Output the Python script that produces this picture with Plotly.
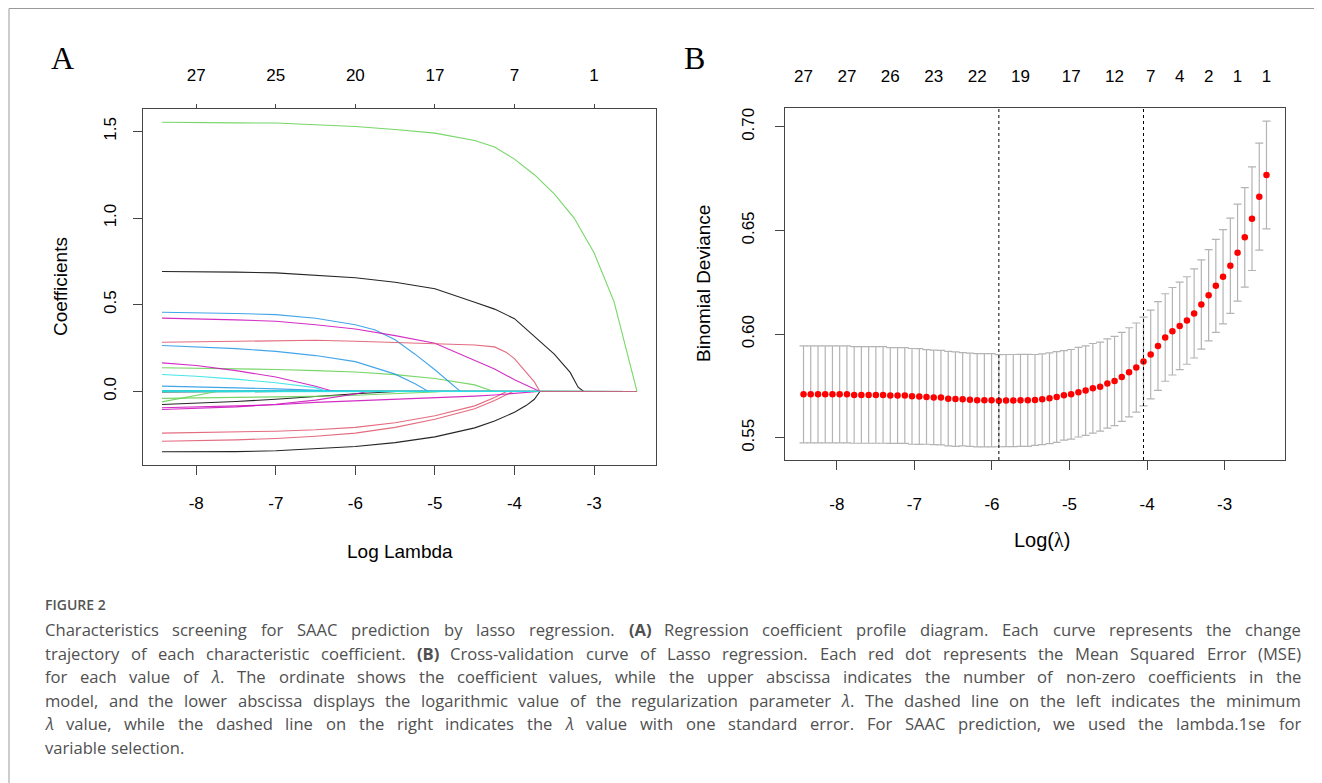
import glob
import struct
import plotly.graph_objects as go

W, H = 1322, 783
OFF = 8                      # page body margin the figure sits inside
FW, FH = W - OFF, H - OFF

# ---------------- Panel A: coefficient paths (log lambda, coefficient) ----------------
A_TICKS = [-8, -7, -6, -5, -4, -3]
A_TOP_LABELS = ["27", "25", "20", "17", "7", "1"]
A_Y_TICKS = [0.0, 0.5, 1.0, 1.5]
A_Y_LABELS = ["0.0", "0.5", "1.0", "1.5"]
LOG_LAMBDA_START = -8.43
LOG_LAMBDA_END = -2.46

green_main = [(-8.43, 1.553), (-8.0, 1.550), (-7.5, 1.549), (-7.0, 1.548), (-6.5, 1.540), (-6.0, 1.528),
              (-5.5, 1.511), (-5.0, 1.490), (-4.5, 1.447), (-4.25, 1.410), (-4.0, 1.340), (-3.75, 1.250),
              (-3.5, 1.140), (-3.25, 1.000), (-3.0, 0.800), (-2.75, 0.520), (-2.46, 0.0)]
black_main = [(-8.43, 0.692), (-8.0, 0.692), (-7.5, 0.688), (-7.0, 0.684), (-6.5, 0.672), (-6.0, 0.656),
              (-5.5, 0.630), (-5.0, 0.592), (-4.5, 0.515), (-4.25, 0.475), (-4.0, 0.420), (-3.75, 0.320),
              (-3.5, 0.215), (-3.3, 0.110), (-3.2, 0.025), (-3.13, 0.0)]
blue_1 = [(-8.43, 0.457), (-8.0, 0.455), (-7.5, 0.450), (-7.0, 0.443), (-6.5, 0.422), (-6.0, 0.385),
          (-5.75, 0.355), (-5.5, 0.298), (-5.25, 0.215), (-5.0, 0.125), (-4.8, 0.050), (-4.68, 0.0)]
magenta_1 = [(-8.43, 0.423), (-8.0, 0.420), (-7.5, 0.413), (-7.0, 0.405), (-6.5, 0.385), (-6.0, 0.360),
             (-5.5, 0.322), (-5.0, 0.278), (-4.5, 0.182), (-4.25, 0.130), (-4.0, 0.068), (-3.75, 0.018),
             (-3.68, 0.0)]
pink_1 = [(-8.43, 0.284), (-8.0, 0.286), (-7.5, 0.290), (-7.0, 0.294), (-6.5, 0.295), (-6.0, 0.290),
          (-5.5, 0.284), (-5.0, 0.277), (-4.5, 0.268), (-4.25, 0.257), (-4.1, 0.225), (-4.0, 0.190),
          (-3.85, 0.110), (-3.75, 0.055), (-3.68, 0.0)]
blue_2 = [(-8.43, 0.265), (-8.0, 0.258), (-7.5, 0.247), (-7.0, 0.231), (-6.5, 0.207), (-6.0, 0.172),
          (-5.5, 0.100), (-5.25, 0.045), (-5.08, 0.0)]
magenta_2 = [(-8.43, 0.165), (-8.0, 0.150), (-7.5, 0.120), (-7.0, 0.083), (-6.5, 0.030), (-6.27, 0.0)]
green_2 = [(-8.43, 0.137), (-8.0, 0.135), (-7.5, 0.132), (-7.0, 0.127), (-6.5, 0.120), (-6.0, 0.112),
           (-5.5, 0.097), (-5.0, 0.075), (-4.5, 0.038), (-4.26, 0.0)]
cyan_1 = [(-8.43, 0.098), (-8.0, 0.088), (-7.5, 0.071), (-7.0, 0.050), (-6.5, 0.022), (-6.36, 0.0)]
blue_3 = [(-8.43, 0.031), (-8.0, 0.028), (-7.5, 0.021), (-7.0, 0.015), (-6.5, 0.007), (-6.0, 0.0)]
green_neg_1 = [(-8.43, -0.060), (-8.0, -0.022), (-7.74, 0.0)]
green_neg_2 = [(-8.43, -0.040), (-8.0, -0.038), (-7.5, -0.035), (-7.0, -0.032), (-6.5, -0.028),
               (-6.0, -0.022), (-5.5, -0.014), (-5.0, -0.003), (-4.92, 0.0)]
black_neg_1 = [(-8.43, -0.075), (-8.0, -0.068), (-7.5, -0.058), (-7.0, -0.045), (-6.5, -0.028),
               (-6.0, -0.013), (-5.48, 0.0)]
magenta_neg_1 = [(-8.43, -0.094), (-8.0, -0.090), (-7.5, -0.083), (-7.0, -0.077), (-6.5, -0.063),
                 (-6.0, -0.055), (-5.5, -0.046), (-5.0, -0.037), (-4.5, -0.027), (-4.25, -0.020),
                 (-4.0, -0.012), (-3.75, -0.002), (-3.7, 0.0)]
magenta_neg_2 = [(-8.43, -0.104), (-8.0, -0.098), (-7.5, -0.089), (-7.0, -0.074), (-6.5, -0.050),
                 (-6.0, -0.015), (-5.85, 0.0)]
pink_neg_1 = [(-8.43, -0.240), (-8.0, -0.238), (-7.5, -0.234), (-7.0, -0.229), (-6.5, -0.221),
              (-6.0, -0.207), (-5.5, -0.180), (-5.0, -0.140), (-4.5, -0.083), (-4.25, -0.035), (-4.1, 0.0)]
pink_neg_2 = [(-8.43, -0.287), (-8.0, -0.285), (-7.5, -0.279), (-7.0, -0.271), (-6.5, -0.258),
              (-6.0, -0.240), (-5.5, -0.207), (-5.0, -0.160), (-4.5, -0.100), (-4.25, -0.052), (-4.02, 0.0)]
black_neg_2 = [(-8.43, -0.348), (-8.0, -0.348), (-7.5, -0.347), (-7.0, -0.342), (-6.5, -0.330),
               (-6.0, -0.317), (-5.5, -0.295), (-5.0, -0.262), (-4.5, -0.210), (-4.25, -0.170),
               (-4.0, -0.120), (-3.85, -0.080), (-3.75, -0.045), (-3.68, 0.0)]
black_tiny_1 = [(-8.43, 0.006), (-7.9, 0.004), (-7.85, 0.0)]
black_tiny_2 = [(-8.43, -0.003), (-7.0, -0.001), (-6.95, 0.0)]
red_tiny_1 = [(-8.43, 0.003), (-7.2, 0.002), (-7.15, 0.0)]
red_tiny_2 = [(-8.43, 0.004), (-6.5, 0.002), (-6.45, 0.0)]
green_tiny = [(-8.43, 0.002), (-5.0, 0.001), (-4.9, 0.0)]
blue_tiny = [(-8.43, 0.003), (-5.8, 0.001), (-5.75, 0.0)]
cyan_tiny_1 = [(-8.43, 0.004), (-6.0, 0.001), (-5.95, 0.0)]
cyan_tiny_2 = [(-8.43, -0.002), (-6.8, -0.001), (-6.75, 0.0)]
cyan_tiny_3 = [(-8.43, 0.002), (-4.3, 0.001), (-4.25, 0.0)]

R_BLACK, R_RED, R_GREEN, R_BLUE, R_CYAN, R_MAGENTA = "#000000", "#DF536B", "#61D04F", "#2297E6", "#28E2E5", "#CD0BBC"

PATHS = [
    (black_neg_2, R_BLACK), (black_main, R_BLACK), (black_neg_1, R_BLACK), (black_tiny_1, R_BLACK),
    (black_tiny_2, R_BLACK), (pink_neg_1, R_RED), (pink_neg_2, R_RED), (red_tiny_1, R_RED), (red_tiny_2, R_RED),
    (green_2, R_GREEN), (green_neg_1, R_GREEN), (green_neg_2, R_GREEN), (green_tiny, R_GREEN),
    (blue_1, R_BLUE), (blue_2, R_BLUE), (blue_3, R_BLUE), (blue_tiny, R_BLUE),
    (magenta_1, R_MAGENTA), (magenta_2, R_MAGENTA), (magenta_neg_1, R_MAGENTA), (magenta_neg_2, R_MAGENTA),
    (cyan_1, R_CYAN), (cyan_tiny_1, R_CYAN), (cyan_tiny_2, R_CYAN), (cyan_tiny_3, R_CYAN),
    (green_main, R_GREEN), (pink_1, R_RED),
]

# ---------------- Panel B: cross-validation curve ----------------
LOG_LAMBDA_B = [-8.430, -8.337, -8.243, -8.150, -8.057, -7.964, -7.870, -7.777, -7.684, -7.590,
                -7.497, -7.404, -7.311, -7.217, -7.124, -7.031, -6.937, -6.844, -6.751, -6.658,
                -6.564, -6.471, -6.378, -6.284, -6.191, -6.098, -6.005, -5.911, -5.818, -5.725,
                -5.632, -5.538, -5.445, -5.352, -5.258, -5.165, -5.072, -4.979, -4.885, -4.792,
                -4.699, -4.605, -4.512, -4.419, -4.326, -4.232, -4.139, -4.046, -3.953, -3.859,
                -3.766, -3.673, -3.579, -3.486, -3.393, -3.300, -3.206, -3.113, -3.020, -2.926,
                -2.833, -2.740, -2.647, -2.553, -2.460]
CV_MEAN = [0.5710, 0.5710, 0.5710, 0.5710, 0.5710, 0.5710, 0.5710, 0.5707, 0.5707, 0.5707,
           0.5707, 0.5707, 0.5704, 0.5704, 0.5704, 0.5700, 0.5699, 0.5697, 0.5695, 0.5694,
           0.5689, 0.5687, 0.5686, 0.5684, 0.5681, 0.5681, 0.5681, 0.5679, 0.5680, 0.5680,
           0.5681, 0.5681, 0.5683, 0.5686, 0.5691, 0.5697, 0.5705, 0.5710, 0.5720, 0.5728,
           0.5739, 0.5747, 0.5762, 0.5774, 0.5794, 0.5816, 0.5839, 0.5868, 0.5902, 0.5943,
           0.5984, 0.6014, 0.6040, 0.6066, 0.6100, 0.6143, 0.6188, 0.6233, 0.6277, 0.6330,
           0.6393, 0.6467, 0.6557, 0.6663, 0.6768]
CV_SD = [0.0234, 0.0234, 0.0234, 0.0234, 0.0234, 0.0234, 0.0234, 0.0233, 0.0233, 0.0233,
         0.0233, 0.0233, 0.0231, 0.0231, 0.0231, 0.0231, 0.0231, 0.0228, 0.0228, 0.0228,
         0.0228, 0.0228, 0.0225, 0.0225, 0.0225, 0.0225, 0.0225, 0.0222, 0.0222, 0.0222,
         0.0222, 0.0222, 0.0219, 0.0219, 0.0219, 0.0219, 0.0216, 0.0216, 0.0216, 0.0216,
         0.0216, 0.0215, 0.0215, 0.0215, 0.0215, 0.0215, 0.0215, 0.0214, 0.0214, 0.0214,
         0.0211, 0.0211, 0.0211, 0.0211, 0.0215, 0.0215, 0.0220, 0.0224, 0.0227, 0.0230,
         0.0234, 0.0240, 0.0250, 0.0258, 0.0260]
LAMBDA_MIN_LOG = -5.911
LAMBDA_1SE_LOG = -4.046
B_TICKS = [-8, -7, -6, -5, -4, -3]
B_Y_TICKS = [0.55, 0.60, 0.65, 0.70]
B_Y_LABELS = ["0.55", "0.60", "0.65", "0.70"]
B_TOP_POS = [-8.430, -7.870, -7.311, -6.751, -6.191, -5.632, -4.979, -4.419, -3.953, -3.579, -3.206, -2.833, -2.460]
B_TOP_LABELS = ["27", "27", "26", "23", "22", "19", "17", "12", "7", "4", "2", "1", "1"]

CAPTION_HEAD = "FIGURE 2"
CAPTION_LINES = [
    "Characteristics screening for SAAC prediction by lasso regression. (A) Regression coefficient profile diagram. Each curve represents the change",
    "trajectory of each characteristic coefficient. (B) Cross-validation curve of Lasso regression. Each red dot represents the Mean Squared Error (MSE)",
    "for each value of λ. The ordinate shows the coefficient values, while the upper abscissa indicates the number of non-zero coefficients in the",
    "model, and the lower abscissa displays the logarithmic value of the regularization parameter λ. The dashed line on the left indicates the minimum",
    "λ value, while the dashed line on the right indicates the λ value with one standard error. For SAAC prediction, we used the lambda.1se for",
    "variable selection.",
]

# ---------------- geometry helpers (reference pixel -> paper fraction) ----------------
def px_x(p):
    return (p - OFF) / FW


def px_y(p):
    return 1 - (p - OFF) / FH


A_DOM_X = [px_x(143), px_x(656)]
A_DOM_Y = [px_y(465), px_y(109)]
B_DOM_X = [px_x(785), px_x(1285)]
B_DOM_Y = [px_y(460), px_y(108)]


def padded(lo, hi, f=0.04):
    d = (hi - lo) * f
    return [lo - d, hi + d]


A_XRANGE = padded(LOG_LAMBDA_START, LOG_LAMBDA_END)
all_coef = [c for pts, _ in PATHS for _, c in pts]
A_YRANGE = padded(min(all_coef), max(all_coef))
B_XRANGE = padded(min(LOG_LAMBDA_B), max(LOG_LAMBDA_B))
B_YRANGE = padded(min(m - s for m, s in zip(CV_MEAN, CV_SD)), max(m + s for m, s in zip(CV_MEAN, CV_SD)))


# ---------------- font metrics for justified caption ----------------
def load_font_widths():
    cands = [p for p in glob.glob("/usr/share/fonts/**/*.[ot]tf", recursive=True)
             if "opensans" in p.lower().replace("-", "").replace("_", "").replace(" ", "")]
    cands.sort(key=lambda p: (("regular" not in p.lower()) and ("[" not in p), "italic" in p.lower(), len(p)))
    for path in cands:
        try:
            data = open(path, "rb").read()
            n = struct.unpack(">H", data[4:6])[0]
            tabs = {}
            for i in range(n):
                o = 12 + 16 * i
                tabs[data[o:o + 4].decode("latin1")] = struct.unpack(">I", data[o + 8:o + 12])[0]
            upem = struct.unpack(">H", data[tabs["head"] + 18:tabs["head"] + 20])[0]
            nhm = struct.unpack(">H", data[tabs["hhea"] + 34:tabs["hhea"] + 36])[0]
            hm = tabs["hmtx"]
            adv = [struct.unpack(">H", data[hm + 4 * i:hm + 4 * i + 2])[0] for i in range(nhm)]
            cm = tabs["cmap"]
            nsub = struct.unpack(">H", data[cm + 2:cm + 4])[0]
            sub = None
            for i in range(nsub):
                pid, eid, so = struct.unpack(">HHI", data[cm + 4 + 8 * i:cm + 12 + 8 * i])
                if struct.unpack(">H", data[cm + so:cm + so + 2])[0] == 4:
                    sub = cm + so
                    break
            if sub is None:
                continue
            sx2 = struct.unpack(">H", data[sub + 6:sub + 8])[0]
            sc = sx2 // 2
            ends = struct.unpack(">%dH" % sc, data[sub + 14:sub + 14 + sx2])
            starts = struct.unpack(">%dH" % sc, data[sub + 16 + sx2:sub + 16 + 2 * sx2])
            deltas = struct.unpack(">%dh" % sc, data[sub + 16 + 2 * sx2:sub + 16 + 3 * sx2])
            rp = sub + 16 + 3 * sx2
            roffs = struct.unpack(">%dH" % sc, data[rp:rp + sx2])

            def gid(c):
                for k in range(sc):
                    if ends[k] >= c:
                        if starts[k] > c:
                            return 0
                        if roffs[k] == 0:
                            return (c + deltas[k]) & 0xFFFF
                        a = rp + 2 * k + roffs[k] + 2 * (c - starts[k])
                        g = struct.unpack(">H", data[a:a + 2])[0]
                        return (g + deltas[k]) & 0xFFFF if g else 0
                return 0

            cache = {}

            def width(s, size):
                tot = 0
                for ch in s:
                    if ch not in cache:
                        g = gid(ord(ch))
                        cache[ch] = adv[min(g, nhm - 1)]
                    tot += cache[ch]
                return tot * size / upem

            return width
        except Exception:
            continue
    return lambda s, size: 0.53 * size * len(s)


text_width = load_font_widths()

fig = go.Figure()

for pts, col in PATHS:
    xs = [p[0] for p in pts]
    ys = [p[1] for p in pts]
    if xs[-1] < LOG_LAMBDA_END:
        xs.append(LOG_LAMBDA_END)
        ys.append(0.0)
    fig.add_trace(go.Scatter(x=xs, y=ys, mode="lines", line=dict(color=col, width=1.1),
                             opacity=0.85, xaxis="x", yaxis="y", showlegend=False, hoverinfo="skip"))

# dummy traces so the top axes render
fig.add_trace(go.Scatter(x=A_TICKS, y=[None] * len(A_TICKS), xaxis="x3", yaxis="y", showlegend=False,
                         hoverinfo="skip", mode="markers"))
fig.add_trace(go.Scatter(x=B_TOP_POS, y=[None] * len(B_TOP_POS), xaxis="x4", yaxis="y2", showlegend=False,
                         hoverinfo="skip", mode="markers"))

fig.add_trace(go.Scatter(
    x=LOG_LAMBDA_B, y=CV_MEAN, mode="markers",
    marker=dict(color="#FF0000", size=6.5, line=dict(width=0)),
    error_y=dict(type="data", array=CV_SD, color="#B4B4B4", thickness=1.2, width=4),
    xaxis="x2", yaxis="y2", showlegend=False, hoverinfo="skip"))

AX_FONT = dict(family="Liberation Sans, Arial, sans-serif", size=17, color="#000000")
AXLINE = "#444444"

base = dict(showgrid=False, zeroline=False, showline=True, linecolor=AXLINE, linewidth=1, mirror=True,
            ticks="outside", ticklen=9, tickcolor=AXLINE, tickfont=AX_FONT)

fig.update_layout(
    width=FW, height=FH, margin=dict(l=0, r=0, t=0, b=0),
    paper_bgcolor="white", plot_bgcolor="white",
    xaxis=dict(domain=A_DOM_X, range=A_XRANGE, anchor="y", tickvals=A_TICKS,
               ticktext=[str(t) for t in A_TICKS], ticklabelstandoff=14, **base),
    yaxis=dict(domain=A_DOM_Y, range=A_YRANGE, anchor="x", tickvals=A_Y_TICKS, ticktext=A_Y_LABELS,
               tickangle=-90, ticklabelstandoff=10, **base),
    xaxis3=dict(overlaying="x", side="top", anchor="y", range=A_XRANGE, tickvals=A_TICKS, ticktext=A_TOP_LABELS,
                showgrid=False, zeroline=False, showline=False, ticks="outside", ticklen=4, tickcolor=AXLINE,
                tickfont=AX_FONT, ticklabelstandoff=16),
    xaxis2=dict(domain=B_DOM_X, range=B_XRANGE, anchor="y2", tickvals=B_TICKS,
                ticktext=[str(t) for t in B_TICKS], ticklabelstandoff=20, **base),
    yaxis2=dict(domain=B_DOM_Y, range=B_YRANGE, anchor="x2", tickvals=B_Y_TICKS, ticktext=B_Y_LABELS,
                tickangle=-90, ticklabelstandoff=14, **base),
    xaxis4=dict(overlaying="x2", side="top", anchor="y2", range=B_XRANGE, tickvals=B_TOP_POS,
                ticktext=B_TOP_LABELS, showgrid=False, zeroline=False, showline=False, ticks="",
                tickfont=AX_FONT, ticklabelstandoff=22),
)

# dotted reference lines at lambda.min and lambda.1se
for v in (LAMBDA_MIN_LOG, LAMBDA_1SE_LOG):
    fig.add_shape(type="line", xref="x2", yref="y2 domain", x0=v, x1=v, y0=0, y1=1,
                  line=dict(color="#000000", width=1, dash="dot"))

# figure frame (left and top rules)
fig.add_shape(type="line", xref="paper", yref="paper", x0=px_x(9), x1=px_x(9), y0=0, y1=px_y(8.5),
              line=dict(color="#9a9a9a", width=1))
fig.add_shape(type="line", xref="paper", yref="paper", x0=px_x(9), x1=1, y0=px_y(8.5), y1=px_y(8.5),
              line=dict(color="#9a9a9a", width=1))

TITLE_FONT = dict(family="Liberation Sans, Arial, sans-serif", size=19, color="#000000")
SERIF = "Liberation Serif, Times New Roman, serif"
ann = [
    dict(text="A", x=px_x(62), y=px_y(58), font=dict(family=SERIF, size=32, color="#000")),
    dict(text="B", x=px_x(694), y=px_y(58), font=dict(family=SERIF, size=32, color="#000")),
    dict(text="Log Lambda", x=px_x(400), y=px_y(551), font=TITLE_FONT),
    dict(text="Coefficients", x=px_x(60), y=px_y(287), font=TITLE_FONT, textangle=-90),
    dict(text="Log(<span style='font-family:Liberation Serif'>λ</span>)", x=px_x(1042), y=px_y(540),
         font=dict(TITLE_FONT, size=20)),
    dict(text="Binomial Deviance", x=px_x(703), y=px_y(284), font=TITLE_FONT, textangle=-90),
]
for a in ann:
    a.update(xref="paper", yref="paper", showarrow=False, xanchor="center", yanchor="middle")
    fig.add_annotation(**a)

# ---------------- caption (justified word by word) ----------------
CAP_FONT = "Open Sans, sans-serif"
CAP_SIZE = 16.6
CAP_COLOR = "#505050"
fig.add_annotation(text=CAPTION_HEAD, xref="paper", yref="paper", x=px_x(43), y=px_y(604), showarrow=False,
                   xanchor="left", yanchor="middle",
                   font=dict(family=CAP_FONT, size=14, color="#555555", weight=600))

LEFT, RIGHT = 43, 1299
line_y = [629, 653, 676, 700, 723, 747]


def styled(word):
    if word in ("(A)", "(B)"):
        return "<b>" + word + "</b>"
    return word.replace("λ", "<i>λ</i>")


for li, (txt, yy) in enumerate(zip(CAPTION_LINES, line_y)):
    words = txt.split(" ")
    widths = [text_width(w, CAP_SIZE) * (1.05 if w in ("(A)", "(B)") else 1.0) for w in words]
    space = text_width(" ", CAP_SIZE)
    last = li == len(CAPTION_LINES) - 1
    if last or len(words) < 2:
        gap = space
    else:
        gap = (RIGHT - LEFT - sum(widths)) / (len(words) - 1)
    xpos = LEFT
    for w, wd in zip(words, widths):
        fig.add_annotation(text=styled(w), xref="paper", yref="paper", x=px_x(xpos), y=px_y(yy),
                           showarrow=False, xanchor="left", yanchor="middle",
                           font=dict(family=CAP_FONT, size=CAP_SIZE, color=CAP_COLOR))
        xpos += wd + gap

fig.write_html("out.html")
